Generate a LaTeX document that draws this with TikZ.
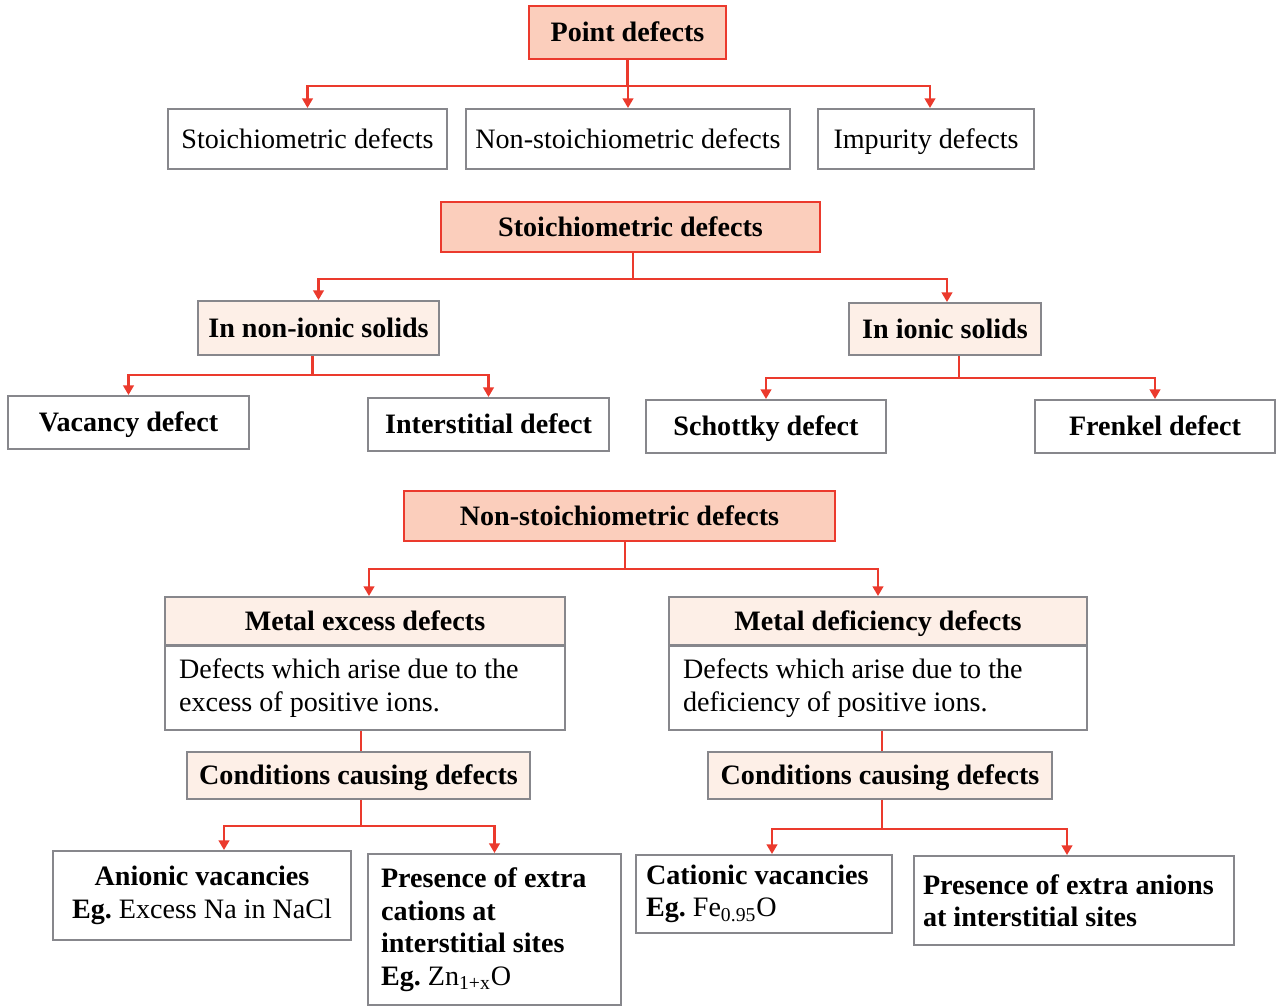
\documentclass[tikz,border=0pt]{standalone}
\usepackage{fontspec}
\setmainfont{Liberation Serif}
\usetikzlibrary{arrows.meta}
\definecolor{linkred}{RGB}{235,58,45}
\definecolor{headfill}{RGB}{251,206,188}
\definecolor{subfill}{RGB}{253,239,231}
\definecolor{boxgray}{RGB}{135,135,140}
\newcommand{\chartfont}{\fontsize{16}{18.5}\selectfont}

\begin{document}
\begin{tikzpicture}[x=0.02cm, y=-0.02cm, font=\chartfont,
    single/.style={text height=13pt, text depth=2.5pt},
    head/.style={single, draw=linkred, fill=headfill, line width=1.1pt, font=\chartfont\bfseries},
    sub/.style={single, draw=boxgray, fill=subfill, line width=1.1pt, font=\chartfont\bfseries},
    leaf/.style={draw=boxgray, fill=white, line width=1.1pt},
    bold/.style={single, font=\chartfont\bfseries},
    link/.style={draw=linkred, line width=1.3pt},
    arr/.style={link, -{Triangle[length=5.5pt,width=6pt]}}]
    \useasboundingbox (0,0) rectangle (1276,1008);

    \node[head, minimum width=3.94cm, minimum height=1.06cm] (pd) at (627.5,32.5) {Point defects};
    \node[leaf, single, minimum width=5.58cm, minimum height=1.2cm] (sdl) at (307.5,139) {Stoichiometric defects};
    \node[leaf, single, minimum width=6.48cm, minimum height=1.2cm] (nsl) at (628,139) {Non-stoichiometric defects};
    \node[leaf, single, minimum width=4.32cm, minimum height=1.2cm] (imp) at (926,139) {Impurity defects};
    \draw[arr] (pd.south) -- ++(0,26) -| (sdl.north);
    \draw[arr] (pd.south) -- ++(0,26) -| (nsl.north);
    \draw[arr] (pd.south) -- ++(0,26) -| ([xshift=0.08cm]imp.north);

    \node[head, minimum width=7.58cm, minimum height=1cm] (sdh) at (630.5,227) {Stoichiometric defects};
    \node[sub, minimum width=4.82cm, minimum height=1.08cm] (nion) at (318.5,328) {In non-ionic solids};
    \node[sub, minimum width=3.84cm, minimum height=1.04cm] (ion) at (945,329) {In ionic solids};
    \node[leaf, bold, minimum width=4.82cm, minimum height=1.06cm] (vac) at (128.5,422.5) {Vacancy defect};
    \node[leaf, bold, minimum width=4.82cm, minimum height=1.06cm] (inter) at (488.5,424.5) {Interstitial defect};
    \node[leaf, bold, minimum width=4.8cm, minimum height=1.06cm] (sch) at (766,426.5) {Schottky defect};
    \node[leaf, bold, minimum width=4.8cm, minimum height=1.06cm] (fre) at (1155,426.5) {Frenkel defect};
    \draw[arr] ([xshift=0.05cm]sdh.south) -- ++(0,26) -| (nion.north);
    \draw[arr] ([xshift=0.05cm]sdh.south) -- ++(0,26) -| ([xshift=0.04cm]ion.north);
    \draw[arr] ([xshift=-0.12cm]nion.south) -- ++(0,19) -| (vac.north);
    \draw[arr] ([xshift=-0.12cm]nion.south) -- ++(0,19) -| (inter.north);
    \draw[arr] ([xshift=0.28cm]ion.south) -- ++(0,22) -| (sch.north);
    \draw[arr] ([xshift=0.28cm]ion.south) -- ++(0,22) -| (fre.north);

    \node[head, minimum width=8.62cm, minimum height=1cm] (nsh) at (619.5,516) {Non-stoichiometric defects};
    \node[sub, minimum width=8cm, minimum height=0.96cm] (meh) at (365,621) {Metal excess defects};
    \node[leaf, minimum width=8cm, minimum height=1.68cm, text width=7.44cm, inner xsep=0.28cm, align=flush left] (meb) at (365,688)
        {Defects which arise due to the\\excess of positive ions.};
    \node[sub, minimum width=8.36cm, minimum height=0.96cm] (mdh) at (878,621) {Metal deficiency defects};
    \node[leaf, minimum width=8.36cm, minimum height=1.68cm, text width=7.8cm, inner xsep=0.28cm, align=flush left] (mdb) at (878,688)
        {Defects which arise due to the\\deficiency of positive ions.};
    \draw[arr] ([xshift=0.11cm]nsh.south) -- ++(0,27) -| ([xshift=0.08cm]meh.north);
    \draw[arr] ([xshift=0.11cm]nsh.south) -- ++(0,27) -| (mdh.north);

    \node[sub, minimum width=6.86cm, minimum height=0.94cm] (ccl) at (358.5,775.5) {Conditions causing defects};
    \node[sub, minimum width=6.88cm, minimum height=0.94cm] (ccr) at (880,775.5) {Conditions causing defects};
    \draw[link] ([xshift=0.05cm]ccl.north) -- ([xshift=0.05cm]ccl.north |- meb.south);
    \draw[link] ([xshift=0.04cm]ccr.north) -- ([xshift=0.04cm]ccr.north |- mdb.south);

    \node[leaf, minimum width=5.96cm, minimum height=1.78cm, align=center] (anv) at (202,895.5)
        {\textbf{Anionic vacancies}\\\textbf{Eg.}\ Excess Na in NaCl};
    \node[leaf, minimum width=5.06cm, minimum height=3.02cm, text width=4.54cm, inner xsep=0.26cm, align=flush left] (cat) at (494.5,929.5)
        {\textbf{Presence of extra}\\\textbf{cations at}\\\textbf{interstitial sites}\\\textbf{Eg.}\ Zn\textsubscript{1+x}O};
    \node[leaf, minimum width=5.12cm, minimum height=1.56cm, text width=4.72cm, inner xsep=0.2cm, align=flush left] (cav) at (764,894)
        {\textbf{Cationic vacancies}\\\textbf{Eg.}\ Fe\textsubscript{0.95}O};
    \node[leaf, minimum width=6.4cm, minimum height=1.78cm, text width=6.04cm, inner xsep=0.18cm, align=flush left] (ani) at (1074,900.5)
        {\textbf{Presence of extra anions}\\\textbf{at interstitial sites}};
    \draw[arr] ([xshift=0.05cm]ccl.south) -- ++(0,26) -| ([xshift=0.44cm]anv.north);
    \draw[arr] ([xshift=0.05cm]ccl.south) -- ++(0,26) -| (cat.north);
    \draw[arr] ([xshift=0.04cm]ccr.south) -- ++(0,29) -| ([xshift=0.16cm]cav.north);
    \draw[arr] ([xshift=0.04cm]ccr.south) -- ++(0,29) -| ([xshift=-0.14cm]ani.north);
\end{tikzpicture}
\end{document}
